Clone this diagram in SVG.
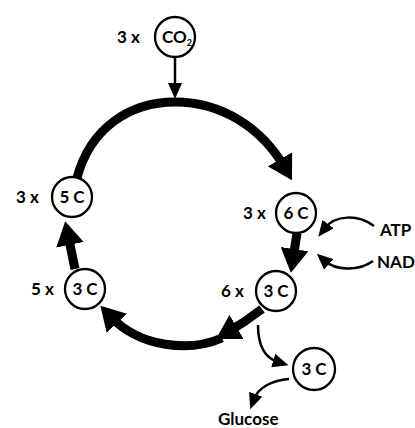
<svg xmlns="http://www.w3.org/2000/svg" width="415" height="428" viewBox="0 0 415 428">
<style>
.n circle{fill:#fff;stroke:#000;stroke-width:2.3}
text{font-family:Lato,"Open Sans","Liberation Sans",sans-serif;font-weight:bold;font-size:17px;fill:#000}
.c{text-anchor:middle}
.thick{fill:none;stroke:#000;stroke-width:9;marker-end:url(#th)}
.thin{fill:none;stroke:#000;stroke-width:2.5;marker-end:url(#tn)}
</style>
<defs>
<marker id="th" markerUnits="userSpaceOnUse" markerWidth="26" markerHeight="28" refX="10" refY="14" orient="auto"><path d="M0,0 L24,14 L0,28 z"/></marker>
<marker id="tn" markerUnits="userSpaceOnUse" markerWidth="16" markerHeight="14" refX="5" refY="7" orient="auto"><path d="M0,0 L16,7 L0,14 z"/></marker>
</defs>
<rect width="415" height="428" fill="#fff"/>
<g id="connectors">
<path class="thin" d="M175 58 L175 88"/>
<path class="thick" d="M77 178 C90 128,130 102,175 102 C222 102,262 128,285 168"/>
<path class="thick" d="M297 233 L293 259"/>
<path class="thick" d="M262 309 Q245 322 228 332"/>
<path class="thick" d="M222 338 C190 352,140 348,110 316"/>
<path class="thick" d="M75 269 L68 235"/>
<path class="thin" d="M374 226 C358 214,335 215,325 228"/>
<path class="thin" d="M373 261 C358 272,335 270,325 261"/>
<path class="thin" d="M258 325 C258 345,265 358,278 362"/>
<path class="thin" d="M289 379 C272 380,258 388,254 399"/>
</g>
<g id="co2" class="n"><circle cx="175" cy="37" r="20"/><text x="117" y="43">3 x</text><text x="162" y="43">CO<tspan font-size="9" dy="3">2</tspan></text></g>
<g id="c5" class="n"><circle cx="72" cy="197" r="20"/><text x="16" y="203">3 x</text><text class="c" x="72" y="203">5 C</text></g>
<g id="c6" class="n"><circle cx="296" cy="213" r="20"/><text x="243" y="219">3 x</text><text class="c" x="296" y="219">6 C</text></g>
<g id="c3a" class="n"><circle cx="276" cy="291" r="20"/><text x="221" y="297">6 x</text><text class="c" x="276" y="297">3 C</text></g>
<g id="c3b" class="n"><circle cx="85" cy="289" r="20"/><text x="31" y="295">5 x</text><text class="c" x="85" y="295">3 C</text></g>
<g id="c3c" class="n"><circle cx="314" cy="369" r="21"/><text class="c" x="314" y="375">3 C</text></g>
<g id="atp"><text x="380" y="236" font-size="16">ATP</text></g>
<g id="nad"><text x="377" y="268" font-size="14">NAD</text></g>
<g id="glucose"><text x="218" y="425">Glucose</text></g>
</svg>
